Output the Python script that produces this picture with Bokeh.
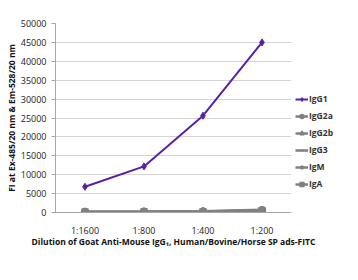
from bokeh.plotting import figure
from bokeh.models import Legend, LegendItem, FixedTicker, Range1d
from bokeh.embed import file_html
from bokeh.resources import INLINE

dilutions = ["1:1600", "1:800", "1:400", "1:200"]
igg1 = [6800, 12200, 25600, 45000]
igg2a = [150, 180, 250, 600]
igg2b = [120, 150, 200, 500]
igg3 = [100, 130, 180, 400]
igm = [200, 220, 300, 700]
iga = [150, 170, 230, 550]
y_ticks = list(range(0, 50001, 5000))

FONT = "Open Sans"
p = figure(x_range=dilutions, y_range=Range1d(0, 50000), frame_width=236, frame_height=189,
           output_backend="svg", toolbar_location=None,
           min_border_left=55, min_border_right=0, min_border_top=23, min_border_bottom=44)
p.outline_line_color = None
p.xgrid.grid_line_color = None
p.ygrid.grid_line_color = "#d4d4d4"
p.ygrid.grid_line_width = 1
p.yaxis.ticker = FixedTicker(ticks=y_ticks)
p.yaxis.formatter.use_scientific = False
for ax in (p.xaxis, p.yaxis):
    ax.axis_line_color = "#a6a6a6"
    ax.major_tick_line_color = "#a6a6a6"
    ax.minor_tick_line_color = None
    ax.major_label_text_font = FONT
    ax.major_label_text_font_size = "9px"
    ax.major_label_text_color = "#222222"
    ax.axis_label_text_font = FONT
    ax.axis_label_text_font_style = "bold"
    ax.axis_label_text_font_size = "8.5px"
    ax.axis_label_text_color = "#111111"
p.yaxis.major_tick_in = 0
p.yaxis.major_tick_out = 4
p.xaxis.major_tick_line_color = None
p.xaxis.major_label_standoff = 5
p.yaxis.major_label_standoff = 5
p.xaxis.axis_label = "Dilution of Goat Anti-Mouse IgG\u2081, Human/Bovine/Horse SP ads-FITC"
p.yaxis.axis_label = "FI at Ex-485/20 nm & Em-528/20 nm"
p.xaxis.axis_label_standoff = -4
p.yaxis.axis_label_standoff = 1

gray = "#808080"
purple = "#5a1fa8"
items = []
r = p.line(dilutions, igg1, color=purple, line_width=2)
m = p.scatter(dilutions, igg1, marker="diamond", size=7, color=purple)
items.append(LegendItem(label="IgG1", renderers=[r, m]))
specs = [("IgG2a", igg2a, "circle", 7), ("IgG2b", igg2b, "triangle", 7),
         ("IgG3", igg3, "dash", 7), ("IgM", igm, "asterisk", 7), ("IgA", iga, "square", 6)]
for name, vals, mk, sz in specs:
    r = p.line(dilutions, vals, color=gray, line_width=2.5)
    m = p.scatter(dilutions, vals, marker=mk, size=sz, color=gray, line_width=1.5)
    items.append(LegendItem(label=name, renderers=[r, m]))

legend = Legend(items=items, location=(4, 23), orientation="vertical")
legend.border_line_color = None
legend.background_fill_alpha = 0
legend.label_text_font = FONT
legend.label_text_font_style = "bold"
legend.label_text_font_size = "8.5px"
legend.label_text_color = "#333333"
legend.glyph_width = 13
legend.glyph_height = 10
legend.spacing = 6
legend.label_standoff = 1
legend.padding = 0
legend.margin = 0
legend.label_height = 10
p.add_layout(legend, "right")

open("out.html", "w").write(file_html(p, INLINE))
